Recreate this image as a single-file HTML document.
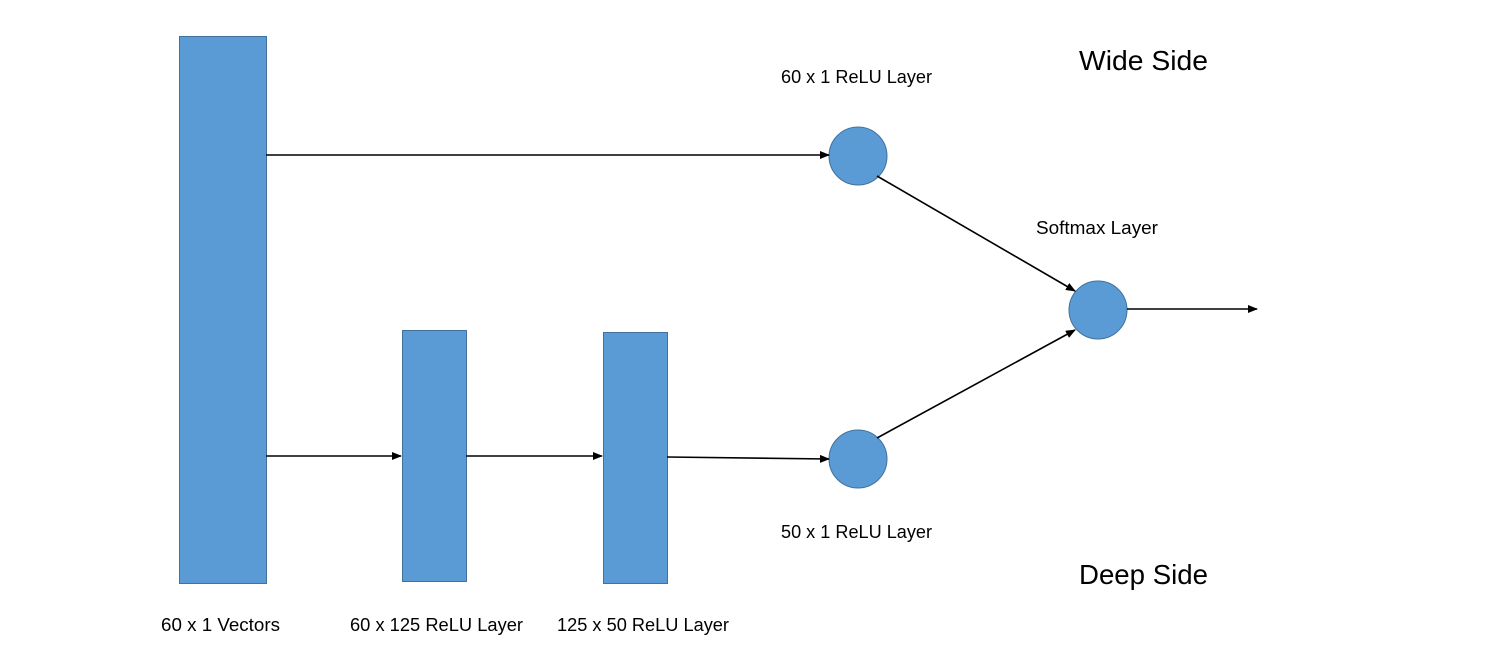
<!DOCTYPE html>
<html><head><meta charset="utf-8"><style>
html,body{margin:0;padding:0;background:#fff;}
svg{display:block;}
text{font-family:"Liberation Sans",sans-serif;fill:#000;}
</style></head><body>
<svg width="1492" height="655" viewBox="0 0 1492 655">
<defs><marker id="ah" markerWidth="10" markerHeight="8" refX="9" refY="4" orient="auto" markerUnits="userSpaceOnUse"><path d="M0,0 L10,4 L0,8 z" fill="#000"/></marker></defs>
<g stroke="#41719C" stroke-width="1" fill="#5B9BD5">
<rect x="179.5" y="36.5" width="87" height="547"/>
<rect x="402.5" y="330.5" width="64" height="251"/>
<rect x="603.5" y="332.5" width="64" height="251"/>
<circle cx="858" cy="156" r="29"/>
<circle cx="858" cy="459" r="29"/>
<circle cx="1098" cy="310" r="29"/>
</g>
<g stroke="#000" stroke-width="1.6" marker-end="url(#ah)">
<line x1="266" y1="155" x2="829" y2="155"/>
<line x1="266" y1="456" x2="401" y2="456"/>
<line x1="466" y1="456" x2="602" y2="456"/>
<line x1="667" y1="457" x2="829" y2="459"/>
<line x1="877" y1="176" x2="1075" y2="291"/>
<line x1="877" y1="438" x2="1075" y2="330"/>
<line x1="1127" y1="309" x2="1257" y2="309"/>
</g>
<text x="1079" y="70" font-size="28" textLength="129" lengthAdjust="spacingAndGlyphs">Wide Side</text>
<text x="1079" y="584" font-size="28" textLength="129" lengthAdjust="spacingAndGlyphs">Deep Side</text>
<text x="781" y="83" font-size="18" textLength="151" lengthAdjust="spacingAndGlyphs">60 x 1 ReLU Layer</text>
<text x="1036" y="234" font-size="18" textLength="122" lengthAdjust="spacingAndGlyphs">Softmax Layer</text>
<text x="781" y="538" font-size="18" textLength="151" lengthAdjust="spacingAndGlyphs">50 x 1 ReLU Layer</text>
<text x="161" y="631" font-size="18" textLength="119" lengthAdjust="spacingAndGlyphs">60 x 1 Vectors</text>
<text x="350" y="631" font-size="18" textLength="173" lengthAdjust="spacingAndGlyphs">60 x 125 ReLU Layer</text>
<text x="557" y="631" font-size="18" textLength="172" lengthAdjust="spacingAndGlyphs">125 x 50 ReLU Layer</text>
</svg>
</body></html>
